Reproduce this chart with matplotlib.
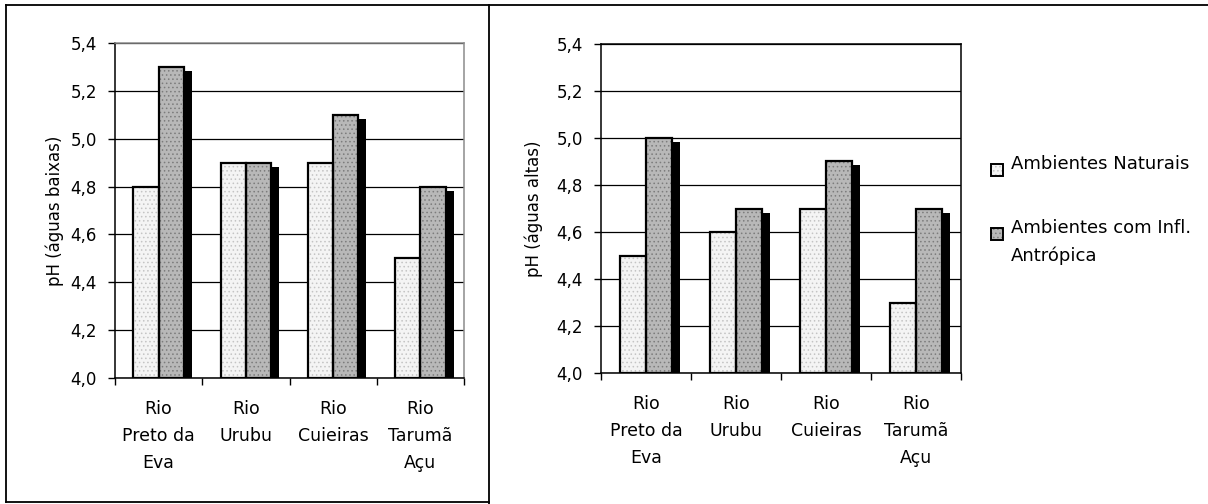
import matplotlib
matplotlib.use("Agg")
import matplotlib.pyplot as plt
import matplotlib.transforms as mtransforms
from matplotlib.patches import Rectangle
from matplotlib.lines import Line2D

# data
rios = ["Rio\nPreto da\nEva", "Rio\nUrubu", "Rio\nCuieiras", "Rio\nTarumã\nAçu"]
baixas_naturais = [4.8, 4.9, 4.9, 4.5]
baixas_antropica = [5.3, 4.9, 5.1, 4.8]
altas_naturais = [4.5, 4.6, 4.7, 4.3]
altas_antropica = [5.0, 4.7, 4.9, 4.7]
y_ticks = [4.0, 4.2, 4.4, 4.6, 4.8, 5.0, 5.2, 5.4]
serie_labels = ["Ambientes Naturais", "Ambientes com Infl.\nAntrópica"]

plt.rcParams["font.family"] = ["DejaVu Sans"]
plt.rcParams["hatch.linewidth"] = 0.6

W, H = 1208, 504
fig = plt.figure(figsize=(W / 100, H / 100), dpi=100)

NAT_FACE, NAT_DOTS = "#f4f4f4", "#c4c4c4"
ANT_FACE, ANT_DOTS = "#b8b8b8", "#7c7c7c"
bw = 0.29


def draw_panel(rect, nat, ant, ylabel, label_x, frame_color):
    ax = fig.add_axes(rect)
    x = list(range(len(rios)))
    x_nat = [i - bw / 2 for i in x]
    x_ant = [i + bw / 2 for i in x]

    # black drop shadow behind the bars
    shadow = mtransforms.offset_copy(ax.transData, fig=fig, x=8, y=-4, units="dots")
    for xs, vals in ((x_nat, nat), (x_ant, ant)):
        bars = ax.bar(xs, [v - 4.0 for v in vals], bw, bottom=4.0, color="black",
                      linewidth=0, zorder=2)
        for b in bars:
            b.set_transform(shadow)

    for xs, vals, face, dots in ((x_nat, nat, NAT_FACE, NAT_DOTS),
                                 (x_ant, ant, ANT_FACE, ANT_DOTS)):
        hs = [v - 4.0 for v in vals]
        ax.bar(xs, hs, bw, bottom=4.0, color=face, edgecolor=dots, hatch="....",
               linewidth=0, zorder=3)
        ax.bar(xs, hs, bw, bottom=4.0, fill=False, edgecolor="black",
               linewidth=1.6, zorder=4)

    ax.set_xlim(-0.5, 3.5)
    ax.set_ylim(4.0, 5.4)
    ax.set_yticks(y_ticks)
    ax.set_yticklabels([f"{t:.1f}".replace(".", ",") for t in y_ticks], fontsize=12)
    ax.set_xticks(x)
    ax.set_xticklabels(rios, fontsize=12.5, linespacing=1.65, va="top")
    ax.set_xticks([i - 0.5 for i in range(len(rios) + 1)], minor=True)
    ax.tick_params(axis="x", which="major", length=0, pad=16)
    ax.tick_params(axis="x", which="minor", length=5, width=1, direction="out")
    ax.tick_params(axis="y", length=5, width=1, direction="out", pad=8)

    ax.yaxis.grid(True, color="black", linewidth=0.9)
    ax.set_axisbelow(True)
    for s in ("left", "bottom"):
        ax.spines[s].set_color("black")
        ax.spines[s].set_linewidth(1.1)
    for s in ("top", "right"):
        ax.spines[s].set_color(frame_color)
        ax.spines[s].set_linewidth(1.1)

    ax.set_ylabel(ylabel, fontsize=12)
    ax.yaxis.set_label_coords(label_x, 0.5)
    return ax


def rect(l, r, t, b):
    return [l / W, 1 - b / H, (r - l) / W, (b - t) / H]


draw_panel(rect(115, 464, 43, 378), baixas_naturais, baixas_antropica,
           "pH (águas baixas)", -0.145, "#8c8c8c")
draw_panel(rect(601, 961, 44, 373), altas_naturais, altas_antropica,
           "pH (águas altas)", -0.16, "black")

# legend, placed by hand like the spreadsheet one
for label, face, dots, top in zip(serie_labels, (NAT_FACE, ANT_FACE),
                                  (NAT_DOTS, ANT_DOTS), (164, 228)):
    box = [991 / W, 1 - (top + 12) / H, 12 / W, 12 / H]
    fig.add_artist(Rectangle(box[:2], box[2], box[3], transform=fig.transFigure,
                             facecolor=face, edgecolor=dots, hatch="....", linewidth=0))
    fig.add_artist(Rectangle(box[:2], box[2], box[3], transform=fig.transFigure,
                             fill=False, edgecolor="black", linewidth=1.4))
    fig.text(1011 / W, 1 - (top - 9) / H, label, fontsize=13, va="top",
             ha="left", linespacing=1.65)

# outer frames around the two charts
frame = dict(color="black", linewidth=1.3, transform=fig.transFigure)
fig.add_artist(Line2D([6 / W, 6 / W], [1 - 5 / H, 1 - 502 / H], **frame))
fig.add_artist(Line2D([6 / W, 1.0], [1 - 5 / H, 1 - 5 / H], **frame))
fig.add_artist(Line2D([6 / W, 489 / W], [1 - 502 / H, 1 - 502 / H], **frame))
fig.add_artist(Line2D([489 / W, 489 / W], [1 - 5 / H, 0.0], **frame))

fig.savefig("out.png", dpi=100)
